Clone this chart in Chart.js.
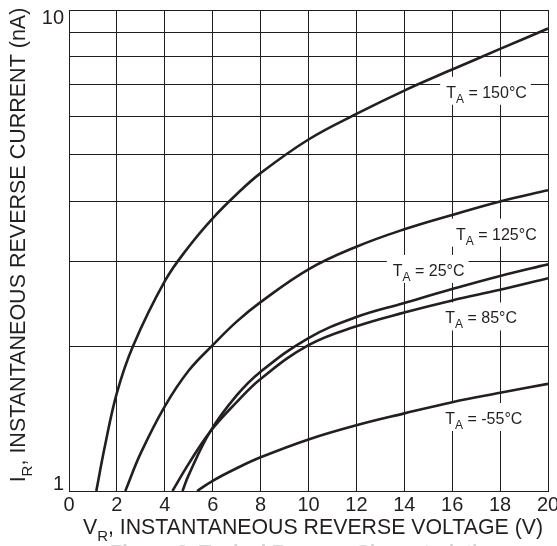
<!DOCTYPE html>
<html>
<head>
<meta charset="utf-8">
<script src="https://cdn.jsdelivr.net/npm/chart.js@4.4.0/dist/chart.umd.min.js"></script>
<style>
  html, body { margin: 0; padding: 0; background: #fff; }
  #wrap { width: 557px; height: 546px; }
</style>
</head>
<body>
<div id="wrap"><canvas id="revChart" width="557" height="546"></canvas></div>
<script>
// Axis ticks
const xTicks = [0, 2, 4, 6, 8, 10, 12, 14, 16, 18, 20];
const yTicks = [1, 2, 3, 4, 5, 6, 7, 8, 9, 10];
const yTickLabels = [1, 10];

// Curves: reverse voltage (V) and reverse current (nA)
const vr150 = [1.14, 1.5, 2, 2.67, 4, 5, 6, 7, 8, 10, 12, 14, 16, 18, 20];
const ir150 = [1.0, 1.24, 1.6, 2.0, 2.73, 3.22, 3.69, 4.14, 4.58, 5.38, 6.08, 6.8, 7.52, 8.3, 9.15];

const vr125 = [2.35, 3, 4, 5, 6, 7, 8, 10, 12, 14, 16, 18, 20];
const ir125 = [1.0, 1.2, 1.5, 1.78, 2.01, 2.25, 2.47, 2.89, 3.22, 3.5, 3.75, 4.0, 4.22];

const vr25 = [4.74, 5, 5.9, 7, 8, 10, 12, 14, 16, 18, 20];
const ir25 = [1.0, 1.08, 1.33, 1.58, 1.77, 2.08, 2.3, 2.46, 2.63, 2.8, 2.96];

const vr85 = [4.32, 5, 5.9, 7, 8, 10, 12, 14, 16, 18, 20];
const ir85 = [1.0, 1.14, 1.33, 1.53, 1.71, 2.01, 2.2, 2.35, 2.49, 2.62, 2.77];

const vrm55 = [5.35, 6, 7, 8, 10, 12, 14, 16, 18, 20];
const irm55 = [1.0, 1.05, 1.115, 1.175, 1.28, 1.37, 1.45, 1.53, 1.6, 1.67];

// Curve labels, placed in data units
const curveLabels = [
    { temp: '150°C', x: 15.75, y: 6.57 },
    { temp: '125°C', x: 16.16, y: 3.33 },
    { temp: '25°C', x: 13.52, y: 2.8 },
    { temp: '85°C', x: 15.71, y: 2.23 },
    { temp: '-55°C', x: 15.71, y: 1.378 }
];

const FONT = '"Liberation Sans", Arial, Helvetica, sans-serif';
const GRID = '#1e1e1e';
const INK = '#231f20';

function toPoints(xs, ys) {
    return xs.map((v, i) => ({ x: v, y: ys[i] }));
}

function curve(xs, ys) {
    return {
        data: toPoints(xs, ys),
        borderColor: INK,
        borderWidth: 2.6,
        tension: 0.4,
        pointRadius: 0,
        fill: false
    };
}

// text with a subscript part: main + sub + rest
function subTextWidth(ctx, main, sub, rest, size, subSize) {
    ctx.font = size + 'px ' + FONT;
    let w = ctx.measureText(main).width + ctx.measureText(rest).width;
    ctx.font = subSize + 'px ' + FONT;
    return w + ctx.measureText(sub).width;
}

function drawSubText(ctx, x, y, main, sub, rest, size, subSize, drop) {
    ctx.textAlign = 'left';
    ctx.textBaseline = 'alphabetic';
    ctx.font = size + 'px ' + FONT;
    ctx.fillText(main, x, y);
    let w = ctx.measureText(main).width;
    ctx.font = subSize + 'px ' + FONT;
    ctx.fillText(sub, x + w, y + drop);
    w += ctx.measureText(sub).width;
    ctx.font = size + 'px ' + FONT;
    ctx.fillText(rest, x + w, y);
}

const labelPlugin = {
    id: 'revLabels',
    // white patches under the labels break the grid, not the curves
    beforeDatasetsDraw(chart) {
        const ctx = chart.ctx;
        const xs = chart.scales.x, ys = chart.scales.y;
        ctx.save();
        ctx.fillStyle = '#fff';
        curveLabels.forEach(l => {
            const px = xs.getPixelForValue(l.x);
            const py = ys.getPixelForValue(l.y);
            const w = subTextWidth(ctx, 'T', 'A', ' = ' + l.temp, 16, 12);
            ctx.fillRect(px - 6, py - 21, w + 10, 28);
        });
        ctx.restore();
    },
    afterDatasetsDraw(chart) {
        const ctx = chart.ctx;
        const xs = chart.scales.x, ys = chart.scales.y;
        ctx.save();
        ctx.fillStyle = INK;
        curveLabels.forEach(l => {
            const px = xs.getPixelForValue(l.x);
            const py = ys.getPixelForValue(l.y);
            drawSubText(ctx, px, py, 'T', 'A', ' = ' + l.temp, 16, 12, 5);
        });
        ctx.restore();
    },
    afterDraw(chart) {
        const ctx = chart.ctx;
        const area = chart.chartArea;
        const xs = chart.scales.x, ys = chart.scales.y;
        ctx.save();
        ctx.fillStyle = INK;

        // x tick labels
        ctx.font = '20px ' + FONT;
        ctx.textAlign = 'center';
        ctx.textBaseline = 'alphabetic';
        xTicks.forEach(v => {
            ctx.fillText(String(v), xs.getPixelForValue(v), area.bottom + 20);
        });

        // y tick labels (1 sits above the axis, 10 below the top line)
        ctx.textAlign = 'right';
        yTickLabels.forEach(v => {
            const py = ys.getPixelForValue(v);
            const base = v === ys.max ? py + 14 : py - 1;
            ctx.fillText(String(v), area.left - 5, base);
        });

        // x title
        const xRest = ', INSTANTANEOUS REVERSE VOLTAGE (V)';
        const xw = subTextWidth(ctx, 'V', 'R', xRest, 21.3, 15);
        drawSubText(ctx, 313 - xw / 2, area.bottom + 43, 'V', 'R', xRest, 21.3, 15, 7);

        // y title
        const yRest = ', INSTANTANEOUS REVERSE CURRENT (nA)';
        const yw = subTextWidth(ctx, 'I', 'R', yRest, 21.5, 15);
        ctx.translate(25, 245 + yw / 2);
        ctx.rotate(-Math.PI / 2);
        drawSubText(ctx, 0, 0, 'I', 'R', yRest, 21.5, 15, 7);
        ctx.restore();

        // caption, mostly cut off by the bottom edge
        ctx.save();
        ctx.fillStyle = '#d6d6d6';
        ctx.font = 'bold 20px ' + FONT;
        ctx.textAlign = 'center';
        ctx.fillText('Figure 2. Typical Reverse Characteristics', 305, 559);
        ctx.restore();
    }
};

new Chart(document.getElementById('revChart'), {
    type: 'line',
    data: {
        datasets: [
            curve(vr150, ir150),
            curve(vr125, ir125),
            curve(vr25, ir25),
            curve(vr85, ir85),
            curve(vrm55, irm55)
        ]
    },
    options: {
        responsive: false,
        animation: false,
        devicePixelRatio: 1,
        layout: { padding: { left: 69, right: 9, top: 10, bottom: 55 } },
        plugins: {
            legend: { display: false },
            tooltip: { enabled: false }
        },
        scales: {
            x: {
                type: 'linear',
                min: 0,
                max: 20,
                afterBuildTicks: s => { s.ticks = xTicks.map(v => ({ value: v })); },
                ticks: { display: false },
                grid: { color: GRID, lineWidth: 1, drawTicks: false },
                border: { color: GRID, width: 1 }
            },
            y: {
                type: 'logarithmic',
                min: 1,
                max: 10,
                afterBuildTicks: s => { s.ticks = yTicks.map(v => ({ value: v })); },
                ticks: { display: false },
                grid: { color: GRID, lineWidth: 1, drawTicks: false },
                border: { color: GRID, width: 1 }
            }
        }
    },
    plugins: [labelPlugin]
});
</script>
</body>
</html>
